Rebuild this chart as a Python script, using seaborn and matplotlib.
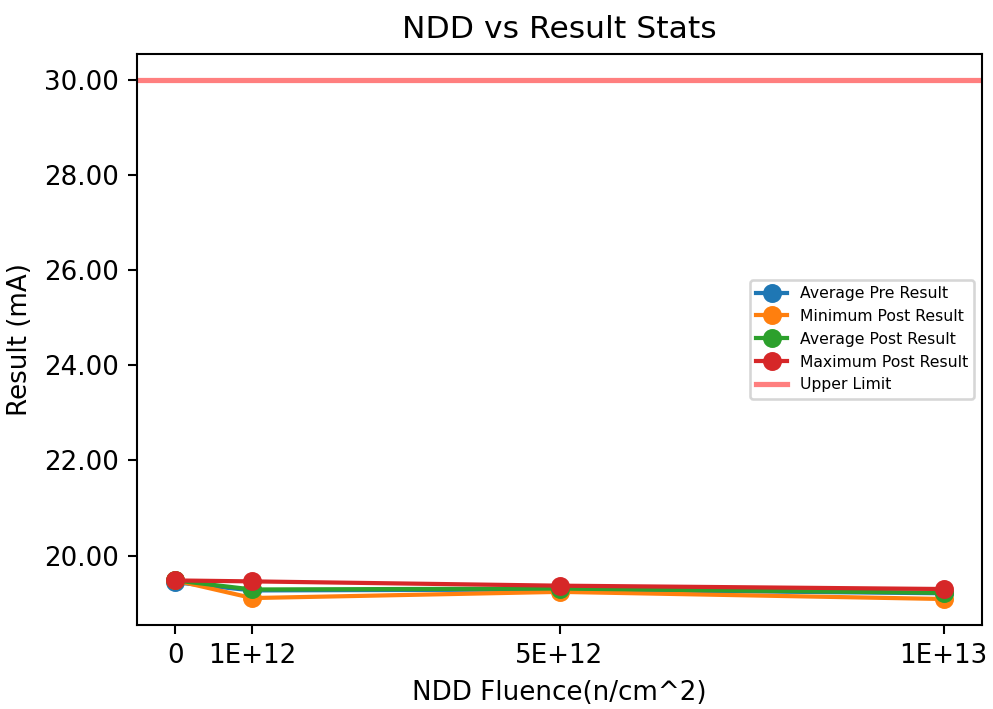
import matplotlib
matplotlib.use("Agg")
import matplotlib.pyplot as plt
import seaborn as sns

fluence = [0, 1e12, 5e12, 1e13]
tick_labels = ["0", "1E+12", "5E+12", "1E+13"]

avg_pre = [19.44, 19.27, 19.29, 19.21]
min_post = [19.48, 19.11, 19.24, 19.09]
avg_post = [19.48, 19.29, 19.31, 19.22]
max_post = [19.48, 19.46, 19.37, 19.30]
upper_limit = 30.0

series = [
    ("Average Pre Result", avg_pre, "tab:blue"),
    ("Minimum Post Result", min_post, "tab:orange"),
    ("Average Post Result", avg_post, "tab:green"),
    ("Maximum Post Result", max_post, "tab:red"),
]

DPI = 188
fig, ax = plt.subplots(figsize=(993 / DPI, 709 / DPI), dpi=DPI)
fig.subplots_adjust(left=0.138, right=0.989, top=0.9245, bottom=0.1185)

for name, vals, col in series:
    sns.lineplot(x=fluence, y=vals, ax=ax, marker="o", color=col, label=name,
                 markeredgecolor=col, markersize=6.5, linewidth=1.6)

ax.axhline(upper_limit, color="red", alpha=0.5, linewidth=2, label="Upper Limit")

ax.set_xticks(fluence)
ax.set_xticklabels(tick_labels)
ax.yaxis.set_major_formatter(matplotlib.ticker.FormatStrFormatter("%.2f"))
ax.set_title("NDD vs Result Stats")
ax.set_xlabel("NDD Fluence(n/cm^2)")
ax.set_ylabel("Result (mA)")
ax.legend(loc="center right", fontsize=6)

fig.savefig("out.png", dpi=DPI)
